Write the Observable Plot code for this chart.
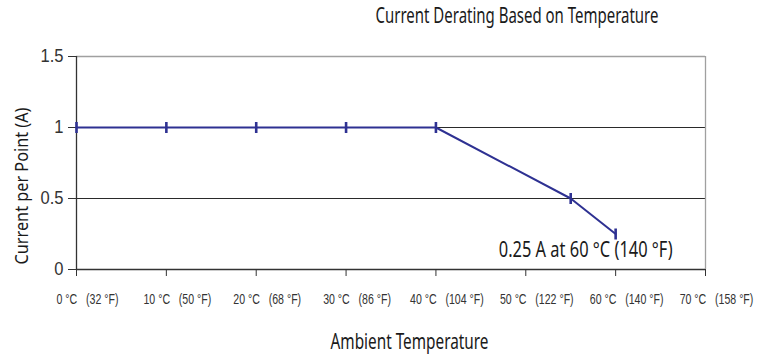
<!DOCTYPE html>
<html>
<head>
<meta charset="utf-8">
<script src="https://cdn.jsdelivr.net/npm/d3@7"></script>
<script src="https://cdn.jsdelivr.net/npm/@observablehq/plot@0.6"></script>
<style>
  html, body { margin: 0; padding: 0; background: #fff; }
  #chart svg { display: block; }
</style>
</head>
<body>
<div id="chart"></div>
<script>
// ---- data ----
const tempC = [0, 10, 20, 30, 40, 55, 60];
const currentA = [1, 1, 1, 1, 1, 0.5, 0.25];
const xTickC = [0, 10, 20, 30, 40, 50, 60, 70];
const xTickF = [32, 50, 68, 86, 104, 122, 140, 158];
const yTicks = [0, 0.5, 1, 1.5];
const titleText = "Current Derating Based on Temperature";
const xLabel = "Ambient Temperature";
const yLabel = "Current per Point (A)";
const noteX = 60, noteY = 0.25;
const noteText = "0.25 A at 60 °C (140 °F)";

const data = tempC.map((t, i) => ({t, a: currentA[i]}));
const nb = "\u00a0";
const xLabelOf = d => {
  const i = xTickC.indexOf(d);
  return `${d}${nb}°C${nb}${nb}${nb}(${xTickF[i]}${nb}°F)`;
};
const yLabelOf = d => String(d);

const fontMain = "'Noto Sans', 'Open Sans', 'DejaVu Sans', sans-serif";
const fontTick = "'Liberation Sans', Arimo, 'DejaVu Sans', sans-serif";
const lineColor = "#2e3192";
const textColor = "#1a1a1a";
const vbar = { draw(ctx) { ctx.moveTo(0, -5.5); ctx.lineTo(0, 5.5); } };

const chart = Plot.plot({
  width: 760,
  height: 357,
  marginTop: 56,
  marginBottom: 88,
  marginLeft: 76,
  marginRight: 55,
  style: { fontFamily: fontMain, background: "#fff", color: "#222" },
  x: { domain: [0, 70] },
  y: { domain: [0, 1.5] },
  marks: [
    Plot.gridY([0.5, 1], { stroke: "#2a2a2a", strokeOpacity: 1, strokeWidth: 1 }),
    Plot.ruleY([1.5], { stroke: "#a0a0a0", strokeWidth: 1.3 }),
    Plot.ruleX([70], { stroke: "#a0a0a0", strokeWidth: 1.3 }),
    Plot.ruleX([0], { stroke: "#333", strokeWidth: 1.3 }),
    Plot.ruleY([0], { stroke: "#333", strokeWidth: 1.3 }),
    Plot.axisY(yTicks, {
      tickSize: 8, tickPadding: 5, fontSize: 18, label: null,
      tickFormat: yLabelOf, stroke: "#333", fill: "#333", fontFamily: fontTick
    }),
    Plot.axisX(xTickC, {
      tickSize: 7, label: null, tickFormat: () => "", stroke: "#333"
    }),
    Plot.text(xTickC, {
      x: d => d, y: () => 0, text: xLabelOf, dx: 11, dy: 29.5,
      fontSize: 15, fill: "#333", fontFamily: fontTick
    }),
    Plot.line(data, { x: "t", y: "a", stroke: lineColor, strokeWidth: 2 }),
    Plot.dot(data, { x: "t", y: "a", symbol: vbar, stroke: lineColor, strokeWidth: 2.6, fill: "none" }),
    Plot.text([noteText], {
      x: () => noteX, y: () => noteY, text: d => d,
      textAnchor: "end", dx: 57, dy: 16, fontSize: 21, fill: textColor
    }),
    Plot.text([titleText], {
      frameAnchor: "top", lineAnchor: "middle", text: d => d, dx: 126, dy: -40,
      fontSize: 21, fill: textColor
    }),
    Plot.text([xLabel], {
      frameAnchor: "bottom", lineAnchor: "middle", text: d => d, dx: 18.5, dy: 73,
      fontSize: 21, fill: textColor
    }),
    Plot.text([yLabel], {
      frameAnchor: "left", textAnchor: "middle", lineAnchor: "middle", text: d => d,
      rotate: -90, dx: -55, dy: 23, fontSize: 19, fill: textColor
    })
  ]
});
document.getElementById("chart").appendChild(chart);

// condense glyphs horizontally (scale about the text anchor) to mimic the
// narrow fonts of the reference
const allTexts = Array.from(chart.querySelectorAll("text"));
function condense(nodes, firstTargetWidth) {
  if (!nodes.length) return;
  const w0 = nodes[0].getComputedTextLength();
  if (!w0) return;
  const k = (firstTargetWidth / w0).toFixed(4);
  nodes.forEach(n => {
    const t = n.getAttribute("transform") || "";
    n.setAttribute("transform", `${t} scale(${k},1)`.trim());
  });
}
const byText = s => allTexts.filter(t => t.textContent === s);
condense(byText(titleText), 283);
condense(byText(xLabel), 158);
condense(byText(yLabel), 157);
condense(byText(noteText), 174);
condense(xTickC.map(xLabelOf).flatMap(byText), 62);
condense(yTicks.map(yLabelOf).reverse().flatMap(byText), 23);
</script>
</body>
</html>
